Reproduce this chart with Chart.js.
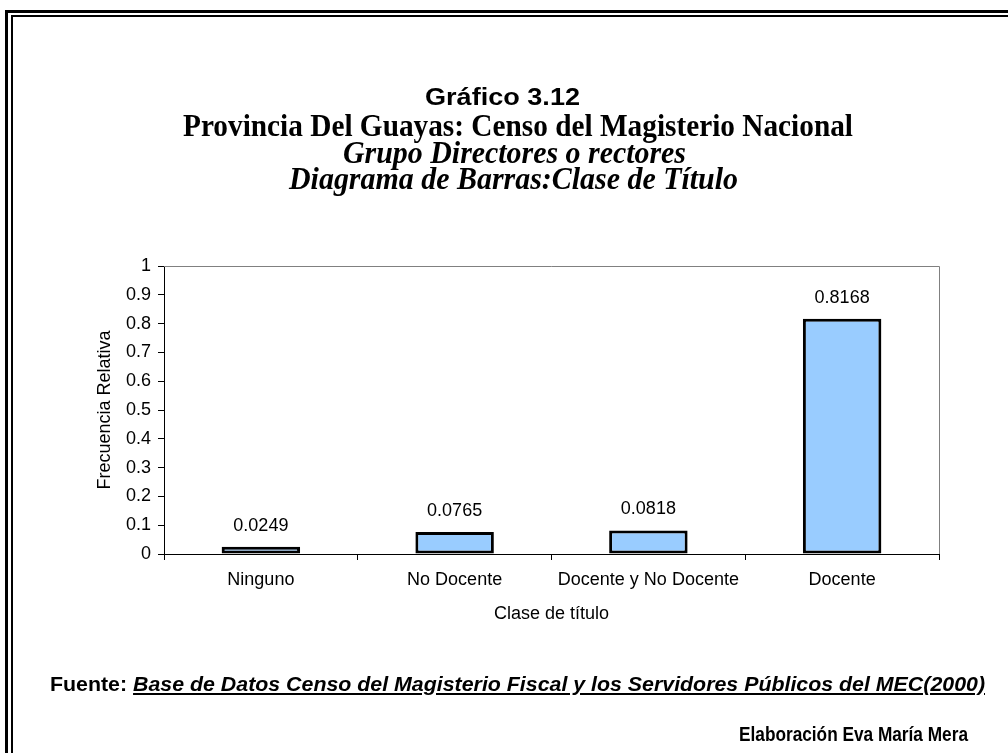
<!DOCTYPE html>
<html>
<head>
<meta charset="utf-8">
<script src="https://cdn.jsdelivr.net/npm/chart.js@4.4.1/dist/chart.umd.min.js"></script>
<style>
    html, body { margin: 0; padding: 0; background: #fff; }
    #page { position: relative; width: 1008px; height: 753px; overflow: hidden; background: #fff; }
    .frame { position: absolute; border-left: solid #000; border-top: solid #000; width: 1200px; height: 1000px; }
    .txt { position: absolute; white-space: nowrap; color: #000; line-height: 1; transform-origin: left center; }
    .sans { font-family: Arial, "Liberation Sans", sans-serif; font-weight: bold; }
    .serif { font-family: "Times New Roman", "Liberation Serif", serif; font-weight: bold; }
    #chartBox { position: absolute; left: 0; top: 0; width: 1008px; height: 753px; }
</style>
</head>
<body>
<div id="page">
    <div class="frame" style="left:5px; top:10px; border-width:3px 0 0 3px"></div>
    <div class="frame" style="left:11px; top:15px; border-width:2px 0 0 2px"></div>

    <div id="chartBox"><canvas id="barChart" width="1008" height="753"></canvas></div>

    <div class="txt sans" data-x="425" data-w="155" data-y="97" style="font-size:23px">Gráfico 3.12</div>
    <div class="txt serif" data-x="183" data-w="670" data-y="125" style="font-size:31px">Provincia Del Guayas: Censo del Magisterio Nacional</div>
    <div class="txt serif" data-x="343" data-w="343" data-y="152" style="font-size:31px; font-style:italic">Grupo Directores o rectores</div>
    <div class="txt serif" data-x="289" data-w="449" data-y="178" style="font-size:31px; font-style:italic">Diagrama de Barras:Clase de Título</div>

    <div class="txt sans" data-x="50" data-w="935" data-y="683" style="font-size:21px">Fuente: <span style="font-style:italic; text-decoration:underline">Base de Datos Censo del Magisterio Fiscal y los Servidores Públicos del MEC(2000)</span></div>
    <div class="txt sans" data-x="739" data-w="229" data-y="733" style="font-size:21px">Elaboración Eva María Mera</div>
</div>

<script>
// Clase de título - frecuencia relativa
const categories = ['Ninguno', 'No Docente', 'Docente y No Docente', 'Docente'];
const frecuencias = [0.0249, 0.0765, 0.0818, 0.8168];
const yTicks = [0, 0.1, 0.2, 0.3, 0.4, 0.5, 0.6, 0.7, 0.8, 0.9, 1];

const FONT = 'Arial, "Liberation Sans", sans-serif';

// place the header/footer lines, squeezing them to the wanted width
document.querySelectorAll('.txt').forEach(el => {
    const box = el.getBoundingClientRect();
    el.style.left = el.dataset.x + 'px';
    el.style.top = (parseFloat(el.dataset.y) - box.height / 2) + 'px';
    el.style.transform = `scaleX(${parseFloat(el.dataset.w) / box.width})`;
});

// gray border on top and right of the plot area
const plotFrame = {
    id: 'plotFrame',
    afterDraw(chart) {
        const { ctx, chartArea: a } = chart;
        ctx.save();
        ctx.strokeStyle = '#808080';
        ctx.lineWidth = 1;
        ctx.beginPath();
        ctx.moveTo(a.left, a.top + 0.5);
        ctx.lineTo(a.right + 0.5, a.top + 0.5);
        ctx.lineTo(a.right + 0.5, a.bottom);
        ctx.stroke();
        ctx.restore();
    }
};

// value labels above each bar
const barLabels = {
    id: 'barLabels',
    afterDatasetsDraw(chart) {
        const { ctx } = chart;
        const meta = chart.getDatasetMeta(0);
        ctx.save();
        ctx.font = `18px ${FONT}`;
        ctx.fillStyle = '#000';
        ctx.textAlign = 'center';
        ctx.textBaseline = 'middle';
        meta.data.forEach((bar, i) => {
            ctx.fillText(frecuencias[i].toFixed(4), bar.x, bar.y - 21);
        });
        ctx.restore();
    }
};

new Chart(document.getElementById('barChart'), {
    type: 'bar',
    data: {
        labels: categories,
        datasets: [{
            label: 'Frecuencia Relativa',
            data: frecuencias,
            backgroundColor: '#99CCFF',
            borderColor: '#000',
            borderWidth: 3,
            borderSkipped: false,
            barPercentage: 0.405,
            categoryPercentage: 1
        }]
    },
    options: {
        responsive: false,
        animation: false,
        layout: { padding: { left: 94, top: 266, right: 69, bottom: 128 } },
        plugins: {
            legend: { display: false },
            tooltip: { enabled: false }
        },
        scales: {
            y: {
                min: 0,
                max: 1,
                afterFit(scale) { scale.width = 70; },
                afterBuildTicks(scale) { scale.ticks = yTicks.map(v => ({ value: v })); },
                border: { color: '#000', width: 1 },
                grid: { drawOnChartArea: false, drawTicks: true, tickLength: 6, color: '#000' },
                ticks: {
                    color: '#000',
                    font: { family: FONT, size: 18 },
                    padding: 7,
                    callback: v => String(Math.round(v * 10) / 10)
                },
                title: {
                    display: true,
                    text: 'Frecuencia Relativa',
                    color: '#000',
                    font: { family: FONT, size: 18 },
                    padding: 0
                }
            },
            x: {
                afterFit(scale) { scale.height = 71; },
                border: { color: '#000', width: 1 },
                grid: { drawOnChartArea: false, drawTicks: true, tickLength: 6, color: '#000', offset: true },
                ticks: {
                    color: '#000',
                    font: { family: FONT, size: 18 },
                    padding: 9,
                    maxRotation: 0
                },
                title: {
                    display: true,
                    text: 'Clase de título',
                    color: '#000',
                    font: { family: FONT, size: 18 },
                    padding: { top: 0, bottom: 0 }
                }
            }
        }
    },
    plugins: [plotFrame, barLabels]
});
</script>
</body>
</html>
